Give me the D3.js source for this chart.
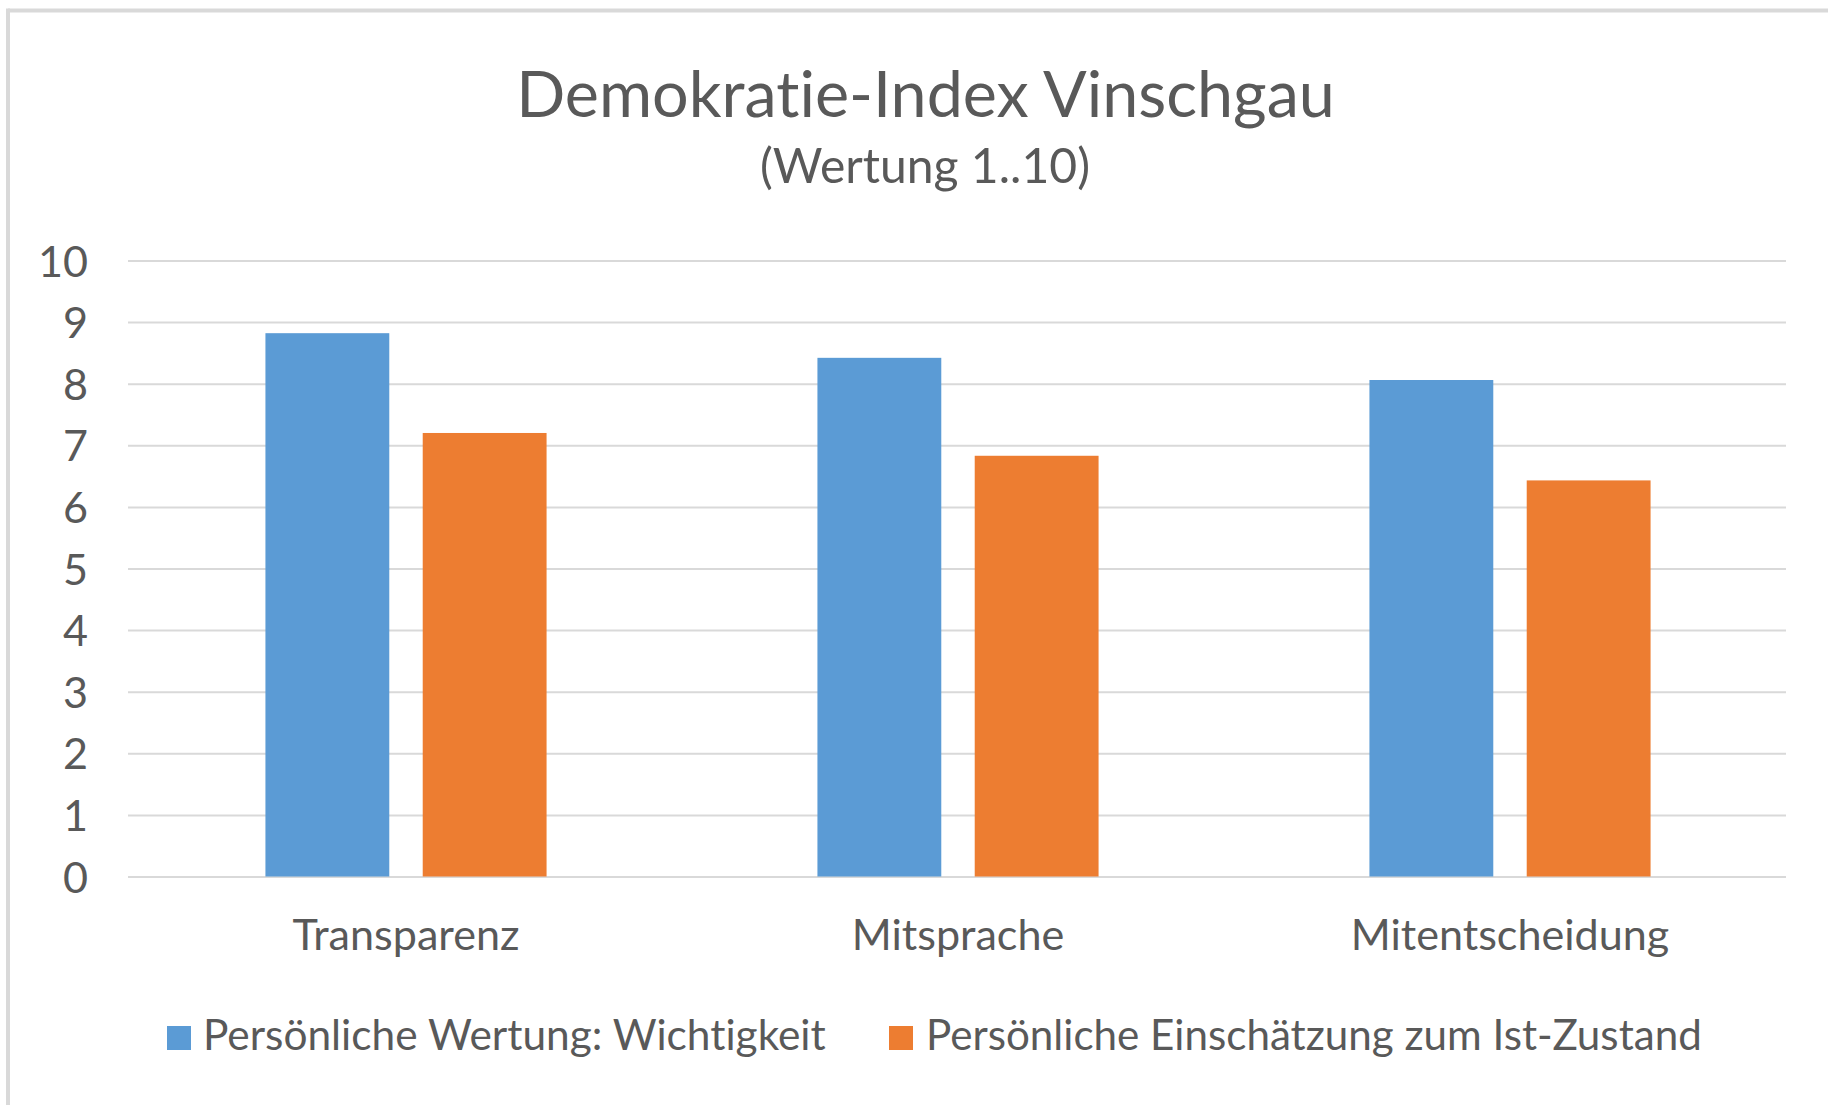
<!DOCTYPE html>
<html>
<head>
<meta charset="utf-8">
<script src="https://cdn.jsdelivr.net/npm/d3@7"></script>
<style>
  html, body { margin: 0; padding: 0; background: #ffffff; }
  svg { display: block; }
  text { font-family: Lato, "Open Sans", sans-serif; fill: #595959; font-variant-ligatures: none; font-feature-settings: "liga" 0; }
</style>
</head>
<body>
<svg id="chart" width="1828" height="1105"></svg>
<script>
// ---------- data ----------
const categories = ["Transparenz", "Mitsprache", "Mitentscheidung"];
const seriesNames = ["Persönliche Wertung: Wichtigkeit", "Persönliche Einschätzung zum Ist-Zustand"];
const wichtigkeit = [8.82, 8.42, 8.06];
const istZustand = [7.20, 6.83, 6.43];
const yTickValues = [0, 1, 2, 3, 4, 5, 6, 7, 8, 9, 10];
const titleText = "Demokratie-Index Vinschgau";
const subtitleText = "(Wertung 1..10)";

// ---------- layout / style ----------
const W = 1828, H = 1105;
const colors = ["#5B9BD5", "#ED7D31"];
const plot = { left: 128, right: 1786, top: 260.5, bottom: 876.5 };

const svg = d3.select("#chart");
svg.append("rect").attr("width", W).attr("height", H).attr("fill", "#ffffff");

// outer frame (only top and left edges visible in the crop)
svg.append("line").attr("x1", 8).attr("x2", W).attr("y1", 10.5).attr("y2", 10.5)
  .attr("stroke", "#d9d9d9").attr("stroke-width", 4);
svg.append("line").attr("x1", 8).attr("x2", 8).attr("y1", 8.5).attr("y2", H)
  .attr("stroke", "#d9d9d9").attr("stroke-width", 4);

function fitText(sel, targetWidth, base) {
  sel.style("font-size", base + "px");
  const w = sel.node().getComputedTextLength();
  sel.style("font-size", (base * targetWidth / w).toFixed(2) + "px");
  return base * targetWidth / w;
}

// titles
const t1 = svg.append("text").attr("x", 925.5).attr("y", 117).attr("text-anchor", "middle").text(titleText);
fitText(t1, 819, 60);
const t2 = svg.append("text").attr("x", 925).attr("y", 183).attr("text-anchor", "middle").text(subtitleText);
fitText(t2, 330, 40);

// scales
const y = d3.scaleLinear().domain([0, 10]).range([plot.bottom, plot.top]);
const x0 = d3.scaleBand().domain(categories).range([plot.left + 2, plot.right])
  .paddingInner(0.4907).paddingOuter(0.4907 / 2);
const x1 = d3.scaleBand().domain(seriesNames).range([0, x0.bandwidth()])
  .paddingInner(0.2126).paddingOuter(0);

// gridlines via axis
const gAxisY = svg.append("g").attr("transform", `translate(${plot.left},0)`)
  .call(d3.axisLeft(y).tickValues(yTickValues).tickSize(-(plot.right - plot.left)).tickPadding(40).tickFormat(d3.format("d")));
gAxisY.select(".domain").remove();
gAxisY.selectAll(".tick line").attr("stroke", "#d9d9d9").attr("stroke-width", 2);
gAxisY.selectAll(".tick text").attr("x", 88 - plot.left).attr("dy", "0.36em")
  .attr("fill", "#595959").style("font-family", "Lato, 'Open Sans', sans-serif");

// category axis labels
const gAxisX = svg.append("g").attr("transform", `translate(0,${plot.bottom})`)
  .call(d3.axisBottom(x0).tickSize(0).tickPadding(0));
gAxisX.select(".domain").remove();
gAxisX.selectAll(".tick text").attr("y", 950 - plot.bottom).attr("dy", 0)
  .attr("fill", "#595959").style("font-family", "Lato, 'Open Sans', sans-serif");

// fit axis label size from "Transparenz"
const firstCat = gAxisX.select(".tick text");
const labelSize = fitText(firstCat, 227, 40);
gAxisX.selectAll(".tick text").style("font-size", labelSize.toFixed(2) + "px");
gAxisY.selectAll(".tick text").style("font-size", labelSize.toFixed(2) + "px");

// bars
const rows = categories.map((c, i) => ({ cat: c, vals: [wichtigkeit[i], istZustand[i]] }));
const groups = svg.append("g").selectAll("g").data(rows).join("g")
  .attr("transform", d => `translate(${x0(d.cat)},0)`);
groups.selectAll("rect").data(d => d.vals.map((v, j) => ({ s: seriesNames[j], v, j })))
  .join("rect")
  .attr("x", d => x1(d.s))
  .attr("width", x1.bandwidth())
  .attr("y", d => y(d.v))
  .attr("height", d => y(0) - y(d.v))
  .attr("fill", d => colors[d.j]);

// legend
const legendX = [167, 889];
const legendTextX = [203, 926];
const legendWidths = [623, 776];
seriesNames.forEach((name, i) => {
  svg.append("rect").attr("x", legendX[i]).attr("y", 1026).attr("width", 24).attr("height", 24).attr("fill", colors[i]);
  const t = svg.append("text").attr("x", legendTextX[i]).attr("y", 1050).text(name);
  fitText(t, legendWidths[i], 40);
});
</script>
</body>
</html>
